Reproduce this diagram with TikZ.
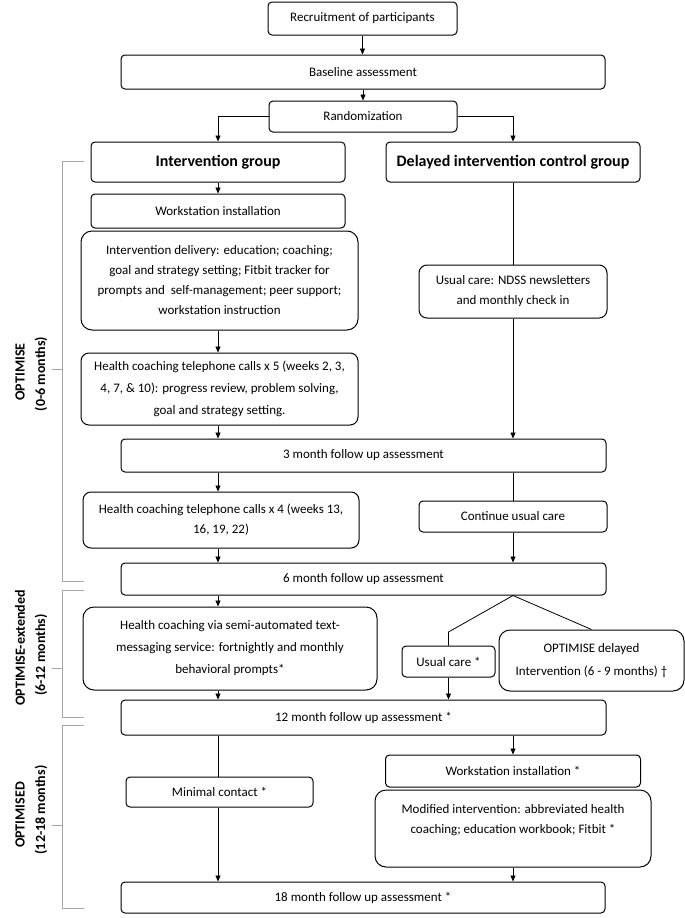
\documentclass[tikz,border=0pt]{standalone}
\usepackage{fontspec}
\setmainfont{Carlito}
\usetikzlibrary{arrows.meta,positioning}

\begin{document}
\begin{tikzpicture}[x=1pt,y=-1pt,
box/.style={draw,rectangle,rounded corners=4pt,line width=1pt,inner sep=2pt,align=center,
    font=\fontsize{13}{20}\selectfont},
bigbox/.style={box,rounded corners=11pt},
grp/.style={box,font=\fontsize{16}{19}\bfseries\selectfont},
arr/.style={-{Triangle[length=6pt,width=5pt]},line width=0.8pt},
lin/.style={line width=0.8pt},
brace/.style={draw=black!35,line width=0.8pt},
phase/.style={rotate=90,font=\fontsize{14}{16}\bfseries\selectfont}]
\useasboundingbox (0,0) rectangle (685,918);

% top of the flow
\node (recruit) [box,minimum width=189pt,minimum height=33pt] at (362.5,18.5) {Recruitment of participants};
\node (baseline) [box,minimum width=484pt,minimum height=34pt] at (363,72) {Baseline assessment};
\node (random) [box,minimum width=188pt,minimum height=31pt] at (363,116.5) {Randomization};
\node (intgrp) [grp,minimum width=254pt,minimum height=40pt] at (218,162) {Intervention group};
\node (delgrp) [grp,minimum width=254pt,minimum height=40pt] at (513,162) {Delayed intervention control group};

% OPTIMISE (0-6 months)
\node (workst) [box,minimum width=254pt,minimum height=34pt] at (218,211) {Workstation installation};
\node (deliv) [bigbox,minimum width=277pt,minimum height=99pt] at (219.5,280.5)
    {Intervention delivery: education; coaching;\\goal and strategy setting; Fitbit tracker for\\
     prompts and\ \ self-management; peer support;\\workstation instruction};
\node (usual1) [bigbox,rounded corners=8pt,minimum width=188pt,minimum height=53pt] at (513,291.5)
    {Usual care: NDSS newsletters\\and monthly check in};
\node (hc5) [bigbox,rounded corners=8pt,minimum width=277pt,minimum height=72pt,
    font=\fontsize{13}{22}\selectfont] at (219.5,389)
    {Health coaching telephone calls x 5 (weeks 2, 3,\\4, 7, \& 10): progress review, problem solving,\\
     goal and strategy setting.};
\node (fu3) [box,minimum width=485pt,minimum height=33pt] at (363.5,455.5) {3 month follow up assessment};
\node (hc4) [bigbox,rounded corners=8pt,minimum width=276pt,minimum height=56pt] at (221,520)
    {Health coaching telephone calls x 4 (weeks 13,\\16, 19, 22)};
\node (contuc) [box,minimum width=188pt,minimum height=31pt] at (513,516.5) {Continue usual care};
\node (fu6) [box,minimum width=485pt,minimum height=32pt] at (363.5,579) {6 month follow up assessment};

% OPTIMISE-extended (6-12 months)
\node (sms) [bigbox,minimum width=294pt,minimum height=83pt,
    font=\fontsize{13}{22}\selectfont] at (230,648.5)
    {Health coaching via semi-automated text-\\messaging service: fortnightly and monthly\\behavioral prompts*};
\node (usual2) [box,minimum width=93pt,minimum height=31pt] at (448.5,661.5) {Usual care *};
\node (delint) [bigbox,minimum width=185pt,minimum height=61pt,
    font=\fontsize{13}{23}\selectfont] at (591.5,660.5)
    {OPTIMISE delayed\\Intervention (6 - 9 months) \textdagger};
\node (fu12) [box,minimum width=485pt,minimum height=35pt] at (363.5,717.5) {12 month follow up assessment *};

% OPTIMISED (12-18 months)
\node (minimal) [box,minimum width=187pt,minimum height=30pt] at (219.5,792) {Minimal contact *};
\node (workst2) [box,minimum width=255pt,minimum height=32pt] at (513,771) {Workstation installation *};
\node (modint) [bigbox,minimum width=276pt,minimum height=77pt] at (513,828.5)
    {Modified intervention: abbreviated health\\coaching; education workbook; Fitbit *\\ ~};
\node (fu18) [box,minimum width=484pt,minimum height=31pt] at (363,897.5) {18 month follow up assessment *};

% connectors
\draw[arr] (recruit.south) -- (recruit.south |- baseline.north);
\draw[arr] (baseline.south -| random) -- (random.north);
\draw[arr] (random.west) -| (intgrp.north);
\draw[arr] (random.east) -| (delgrp.north);
\draw[arr] (intgrp.south) -- (workst.north);
\draw[arr] (deliv.south -| intgrp) -- (hc5.north -| intgrp);
\draw[arr] (hc5.south -| intgrp) -- (fu3.north -| intgrp);
\draw[lin] (delgrp.south) -- (usual1.north);
\draw[arr] (usual1.south) -- (fu3.north -| usual1);
\draw[arr] (fu3.south -| intgrp) -- (hc4.north -| intgrp);
\draw[lin] (fu3.south -| contuc) -- (contuc.north);
\draw[arr] (hc4.south -| intgrp) -- (fu6.north -| intgrp);
\draw[arr] (contuc.south) -- (fu6.north -| contuc);
\draw[arr] (fu6.south -| intgrp) -- (sms.north -| intgrp);
\coordinate (split) at (fu6.south -| delgrp);
\coordinate (ucbend) at (448.5,632);
\draw[lin] (split) -- (ucbend) -- (usual2.north);
\draw[lin] (split) -- (delint.north);
\draw[arr] (sms.south -| intgrp) -- (fu12.north -| intgrp);
\draw[arr] (usual2.south) -- (fu12.north -| usual2);
\draw[lin] (fu12.south -| intgrp) -- (minimal.north -| intgrp);
\draw[arr] (fu12.south -| workst2) -- (workst2.north);
\draw[arr] (minimal.south -| intgrp) -- (fu18.north -| intgrp);
\draw[arr] (modint.south) -- (fu18.north -| modint);

% phase brackets
\draw[brace] (84,161) -- (62,161) -- (62,581) -- (84,581) (62,369) -- (52,369);
\draw[brace] (84,590) -- (62,590) -- (62,717) -- (84,717) (62,668) -- (52,668);
\draw[brace] (84,725) -- (62,725) -- (62,908) -- (84,908) (62,825) -- (52,825);
\node (ph1a) [phase] at (20,372) {OPTIMISE};
\node (ph1b) [phase] at (41,374) {(0-6 months)};
\node (ph2a) [phase] at (20,648) {OPTIMISE-extended};
\node (ph2b) [phase] at (41,655) {(6-12 months)};
\node (ph3a) [phase] at (20,815) {OPTIMISED};
\node (ph3b) [phase] at (41,810) {(12-18 months)};
\end{tikzpicture}
\end{document}
